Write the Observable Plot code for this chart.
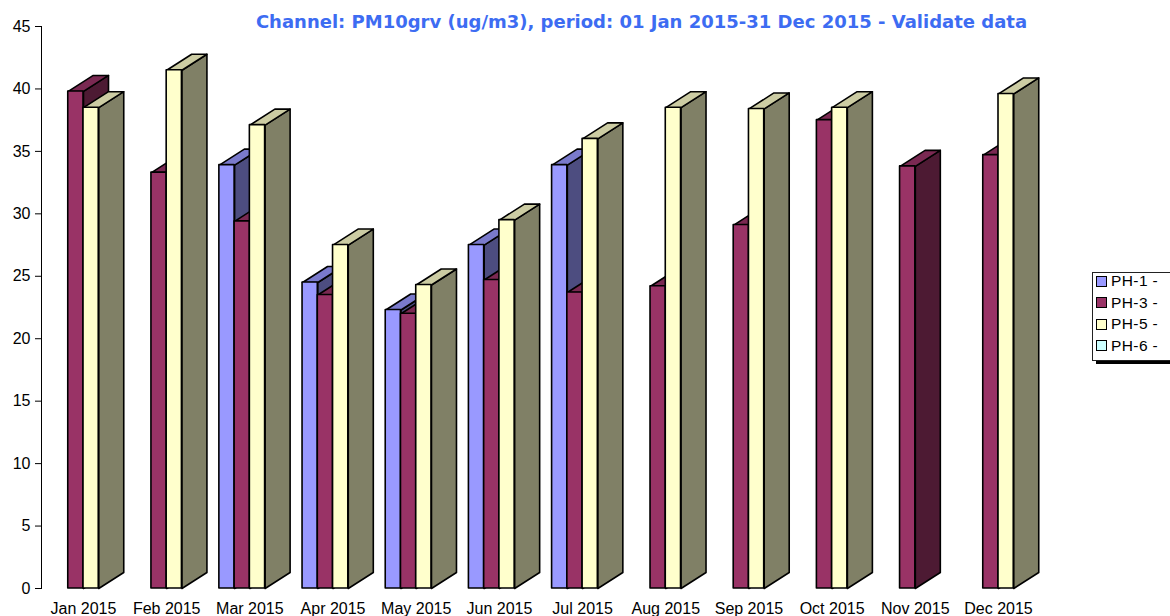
<!DOCTYPE html>
<html>
<head>
<meta charset="utf-8">
<script src="https://cdn.jsdelivr.net/npm/d3@7"></script>
<script src="https://cdn.jsdelivr.net/npm/@observablehq/plot@0.6"></script>
<style>
  html, body { margin: 0; padding: 0; background: #fff; }
  #wrap { position: relative; width: 1170px; height: 616px; overflow: hidden; }
  #title { position: absolute; left: 0; width: 1283px; top: 11px; text-align: center; line-height: 22px;
           font: bold 18px "DejaVu Sans", Verdana, sans-serif; color: #3d6cf2; white-space: nowrap; }
  #legend { position: absolute; left: 1092px; top: 272px; width: 100px; box-sizing: border-box;
            border: 1px solid #222; box-shadow: 4px 3px 0 #000; background: #fff;
            padding: 0 0 6px 3px; font: 15.5px "Liberation Sans", Arial, sans-serif; letter-spacing: 0.4px; }
  .row { display: flex; align-items: center; height: 16px; margin-bottom: 5.5px; }
  .row:last-child { margin-bottom: 0; }
  .sw { width: 9px; height: 9px; border: 1px solid #000; margin-right: 4px; }
  svg { position: absolute; left: 0; top: 0; }
</style>
</head>
<body>
<div id="wrap">
  <div id="chart"></div>
  <div id="title">Channel: PM10grv (ug/m3), period: 01 Jan 2015-31 Dec 2015 - Validate data</div>
  <div id="legend"></div>
</div>
<script>
const months = ["Jan 2015","Feb 2015","Mar 2015","Apr 2015","May 2015","Jun 2015",
                "Jul 2015","Aug 2015","Sep 2015","Oct 2015","Nov 2015","Dec 2015"];
const seriesNames = ["PH-1 -","PH-3 -","PH-5 -","PH-6 -"];
const ph1 = [null, null, 33.9, 24.5, 22.3, 27.5, 33.9, null, null, null, null, null];
const ph3 = [39.8, 33.3, 29.4, 23.5, 22.0, 24.7, 23.7, 24.2, 29.1, 37.5, 33.8, 34.7];
const ph5 = [38.5, 41.5, 37.1, 27.5, 24.3, 29.5, 36.0, 38.5, 38.4, 38.5, null, 39.6];
const ph6 = [null, null, null, null, null, null, null, null, null, null, null, null];
const yTicks = [0, 5, 10, 15, 20, 25, 30, 35, 40, 45];

const seriesValues = [ph1, ph3, ph5, ph6];
const frontColors = ["#9999ff", "#993366", "#ffffcc", "#ccffff"];
const topColors   = ["#7a7acc", "#7a2952", "#cccca3", "#a3cccc"];
const sideColors  = ["#4d4d80", "#4d1a33", "#808066", "#668080"];

// layout (pixels)
const W = 1170, H = 616;
const mL = 41, mT = 26, mB = 28;
const xFirst = 83, xLast = 998;
const barPx = 15.25, depthXPx = 25, depthYPx = 16;

// pixel -> data unit conversions
const xPerPx = (months.length - 1) / (xLast - xFirst);
const yPerPx = 45 / (H - mB - mT);
const bw = barPx * xPerPx, ddx = depthXPx * xPerPx, ddy = depthYPx * yPerPx;

const marks = [];
seriesValues.forEach((vals, s) => {
  const fronts = [], tops = [], sides = [];
  vals.forEach((v, i) => {
    if (v == null) return;
    const x1 = i + (s - 2) * bw, x2 = x1 + bw;
    const id = s + "-" + i;
    fronts.push({x1, x2, v});
    [[x2, 0], [x2 + ddx, ddy], [x2 + ddx, v + ddy], [x2, v], [x2, 0]]
      .forEach(([x, y]) => sides.push({id, x, y}));
    [[x1, v], [x2, v], [x2 + ddx, v + ddy], [x1 + ddx, v + ddy], [x1, v]]
      .forEach(([x, y]) => tops.push({id, x, y}));
  });
  const st = {stroke: "#000", strokeWidth: 1.6, strokeLinejoin: "round"};
  marks.push(Plot.line(sides, {x: "x", y: "y", z: "id", fill: sideColors[s], ...st}));
  marks.push(Plot.line(tops, {x: "x", y: "y", z: "id", fill: topColors[s], ...st}));
  marks.push(Plot.rect(fronts, {x1: "x1", x2: "x2", y1: 0, y2: "v", fill: frontColors[s], ...st}));
});

const chart = Plot.plot({
  width: W, height: H,
  marginLeft: mL, marginTop: mT, marginBottom: mB, marginRight: 0,
  style: {fontSize: "16px", fontFamily: "'Liberation Sans', Arial, sans-serif", color: "#000", background: "transparent"},
  x: {type: "linear", domain: [0, months.length - 1], range: [xFirst, xLast],
      ticks: d3.range(months.length), tickFormat: i => months[i], tickSize: 0, tickPadding: 14, label: null},
  y: {domain: [0, 45], ticks: yTicks, tickSize: 6, tickPadding: 5, label: null, line: true},
  marks
});
document.getElementById("chart").appendChild(chart);

const legend = document.getElementById("legend");
seriesNames.forEach((name, s) => {
  const row = document.createElement("div");
  row.className = "row";
  const sw = document.createElement("div");
  sw.className = "sw";
  sw.style.background = frontColors[s];
  const t = document.createElement("span");
  t.textContent = name;
  row.appendChild(sw); row.appendChild(t);
  legend.appendChild(row);
});
</script>
</body>
</html>
